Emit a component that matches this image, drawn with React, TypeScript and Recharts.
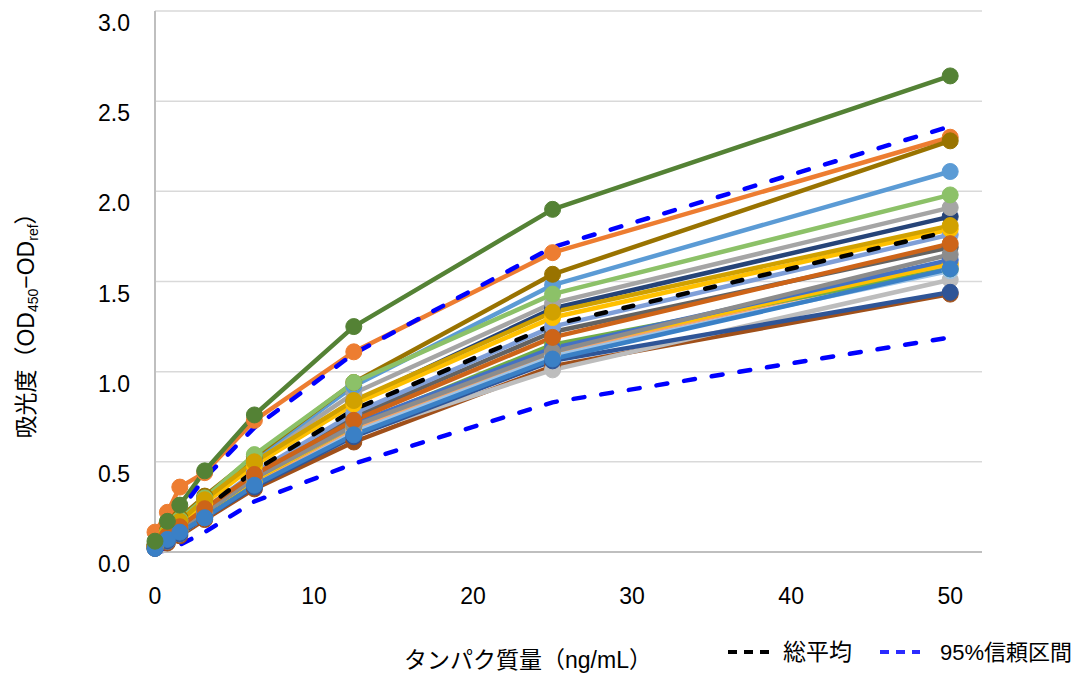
import React from 'react';
import { LineChart, Line, XAxis, YAxis, CartesianGrid, Legend } from 'recharts';

// ---- data ----
const concentrations = [0, 0.78, 1.56, 3.125, 6.25, 12.5, 25, 50];
const xTicks = [0, 10, 20, 30, 40, 50];
const yTicks = [0, 0.5, 1, 1.5, 2, 2.5, 3];

const sampleBrown = [0.02, 0.05, 0.09, 0.18, 0.35, 0.61, 1.03, 1.43];
const sampleLightGray = [0.02, 0.06, 0.10, 0.19, 0.37, 0.65, 1.01, 1.51];
const sampleSkyBlue = [0.03, 0.07, 0.11, 0.20, 0.38, 0.67, 1.09, 1.56];
const samplePeach = [0.03, 0.07, 0.12, 0.21, 0.39, 0.69, 1.11, 1.59];
const sampleGreen = [0.03, 0.08, 0.12, 0.21, 0.40, 0.70, 1.15, 1.57];
const sampleAmber = [0.03, 0.08, 0.12, 0.22, 0.40, 0.70, 1.12, 1.60];
const sampleMidBlue = [0.03, 0.08, 0.13, 0.22, 0.41, 0.71, 1.13, 1.62];
const sampleDarkGray = [0.03, 0.08, 0.13, 0.23, 0.42, 0.75, 1.22, 1.69];
const sampleGray2 = [0.03, 0.08, 0.13, 0.22, 0.41, 0.70, 1.11, 1.65];
const sampleBlueGray = [0.03, 0.09, 0.14, 0.24, 0.44, 0.77, 1.25, 1.76];
const sampleNavy2 = [0.02, 0.06, 0.10, 0.19, 0.36, 0.64, 1.06, 1.44];
const sampleNavy = [0.03, 0.10, 0.16, 0.28, 0.49, 0.83, 1.35, 1.86];
const sampleGray = [0.03, 0.10, 0.17, 0.29, 0.51, 0.88, 1.38, 1.91];
const sampleLightBlue = [0.04, 0.11, 0.18, 0.30, 0.52, 0.92, 1.48, 2.11];
const sampleOrange = [0.11, 0.22, 0.36, 0.44, 0.73, 1.11, 1.66, 2.30];
const sampleDarkYellow = [0.04, 0.12, 0.19, 0.31, 0.53, 0.94, 1.54, 2.28];
const sampleLightGreen = [0.03, 0.11, 0.18, 0.30, 0.54, 0.94, 1.43, 1.98];
const sampleYellow = [0.03, 0.10, 0.16, 0.27, 0.48, 0.82, 1.30, 1.79];
const sampleGold = [0.03, 0.10, 0.17, 0.29, 0.50, 0.84, 1.33, 1.81];
const sampleDarkOrange = [0.03, 0.09, 0.14, 0.24, 0.43, 0.73, 1.19, 1.71];
const sampleBlue = [0.02, 0.07, 0.11, 0.19, 0.37, 0.65, 1.07, 1.57];
const sampleDarkGreen = [0.06, 0.17, 0.26, 0.45, 0.76, 1.25, 1.90, 2.64];

const overallMean = [0.02, 0.06, 0.12, 0.24, 0.45, 0.79, 1.26, 1.78];
const ciUpper = [0.07, 0.14, 0.23, 0.41, 0.69, 1.10, 1.69, 2.36];
const ciLower = [0.0, 0.01, 0.04, 0.11, 0.28, 0.49, 0.83, 1.19];

const sampleSeries = [
  sampleBrown, sampleLightGray, sampleSkyBlue, samplePeach, sampleGreen, sampleAmber,
  sampleMidBlue, sampleDarkGray, sampleGray2, sampleBlueGray, sampleNavy2,
  sampleNavy, sampleGray, sampleLightBlue, sampleOrange, sampleDarkYellow,
  sampleLightGreen, sampleYellow, sampleGold, sampleDarkOrange, sampleBlue, sampleDarkGreen,
];

// ---- styles ----
const sampleColors = [
  '#A0501A', '#BDBDBD', '#9DC3E6', '#F4A46A', '#70AD47', '#FFC000',
  '#4472C4', '#636363', '#8C8C8C', '#7F9FD8', '#2F5597',
  '#264478', '#A5A5A5', '#5B9BD5', '#ED7D31', '#997300',
  '#8CC168', '#FFC000', '#D1A100', '#CD6418', '#3A80C6', '#548235',
];

const FONT = "'Liberation Sans', Arial, 'Noto Sans CJK JP', sans-serif";

const rows = concentrations.map((x, i) => {
  const row: Record<string, number> = { x };
  sampleSeries.forEach((s, k) => {
    row[`s${k}`] = s[i];
  });
  row.mean = overallMean[i];
  row.upper = ciUpper[i];
  row.lower = ciLower[i];
  return row;
});

const YTick = (props: any) => {
  const { x, y, payload } = props;
  return (
    <text x={x} y={y + 20} textAnchor="end" fontSize={23} fontFamily={FONT} fill="#000">
      {Number(payload.value).toFixed(1)}
    </text>
  );
};

const XTick = (props: any) => {
  const { x, y, payload } = props;
  return (
    <text x={x} y={y + 50} textAnchor="middle" fontSize={23} fontFamily={FONT} fill="#000">
      {payload.value}
    </text>
  );
};

const YTitle = () => {
  const cx = 34;
  const cy = 320;
  return (
    <text
      x={cx}
      y={cy}
      transform={`rotate(-90 ${cx} ${cy})`}
      textAnchor="middle"
      fontSize={23}
      fontFamily={FONT}
      fill="#000"
    >
      <tspan>吸光度（OD</tspan>
      <tspan fontSize={14} dy={4}>450</tspan>
      <tspan dy={-4}>−OD</tspan>
      <tspan fontSize={14} dy={4}>ref</tspan>
      <tspan dy={-4}>）</tspan>
    </text>
  );
};

const XTitle = () => (
  <text x={528} y={668} textAnchor="middle" fontSize={23} fontFamily={FONT} fill="#000">
    タンパク質量（ng/mL）
  </text>
);

const LegendBox = () => (
  <svg width={360} height={30} style={{ display: 'block', overflow: 'visible' }}>
    <line x1={8} y1={15} x2={50} y2={15} stroke="#000" strokeWidth={4} strokeDasharray="9 7" />
    <text x={63} y={23} fontSize={23} fontFamily={FONT} fill="#000">総平均</text>
    <line x1={160} y1={15} x2={200} y2={15} stroke="#2B2BFF" strokeWidth={4} strokeDasharray="9 7" />
    <text x={220} y={23} fontSize={22} fontFamily={FONT} fill="#000">95%信頼区間</text>
  </svg>
);

export default function App() {
  return (
    <div style={{ position: 'absolute', left: 0, top: 0, width: 1083, height: 676, background: '#fff' }}>
      <LineChart
        width={1083}
        height={676}
        data={rows}
        margin={{ top: 11, right: 101, bottom: 84, left: 75 }}
      >
        <CartesianGrid vertical={false} stroke="#D9D9D9" strokeWidth={1.5} />
        <XAxis
          type="number"
          dataKey="x"
          domain={[0, 52]}
          ticks={xTicks}
          height={40}
          tickSize={0}
          tickLine={false}
          axisLine={{ stroke: '#BFBFBF', strokeWidth: 2 }}
          tick={<XTick />}
          label={<XTitle />}
        />
        <YAxis
          type="number"
          domain={[0, 3]}
          ticks={yTicks}
          width={80}
          tickSize={0}
          tickMargin={25}
          tickLine={false}
          axisLine={{ stroke: '#BFBFBF', strokeWidth: 2 }}
          tick={<YTick />}
          label={<YTitle />}
        />
        {sampleSeries.map((_, k) => (
          <Line
            key={`s${k}`}
            dataKey={`s${k}`}
            type="linear"
            stroke={sampleColors[k]}
            strokeWidth={4.5}
            strokeLinejoin="round"
            dot={{ r: 8, fill: sampleColors[k], stroke: sampleColors[k], strokeWidth: 1 }}
            activeDot={false}
            isAnimationActive={false}
            legendType="none"
          />
        ))}
        <Line
          dataKey="mean"
          name="総平均"
          type="linear"
          stroke="#000000"
          strokeWidth={4.5}
          strokeDasharray="10 18"
          strokeLinecap="round"
          dot={false}
          activeDot={false}
          isAnimationActive={false}
        />
        <Line
          dataKey="upper"
          name="95%信頼区間"
          type="linear"
          stroke="#0000FF"
          strokeWidth={4.5}
          strokeDasharray="11 17"
          strokeLinecap="round"
          dot={false}
          activeDot={false}
          isAnimationActive={false}
        />
        <Line
          dataKey="lower"
          type="linear"
          stroke="#0000FF"
          strokeWidth={4.5}
          strokeDasharray="11 17"
          strokeLinecap="round"
          dot={false}
          activeDot={false}
          isAnimationActive={false}
          legendType="none"
        />
        <Legend
          layout="horizontal"
          verticalAlign="middle"
          align="center"
          content={<LegendBox />}
          wrapperStyle={{ left: 720, top: 637, width: 360, height: 30 }}
        />
      </LineChart>
    </div>
  );
}
